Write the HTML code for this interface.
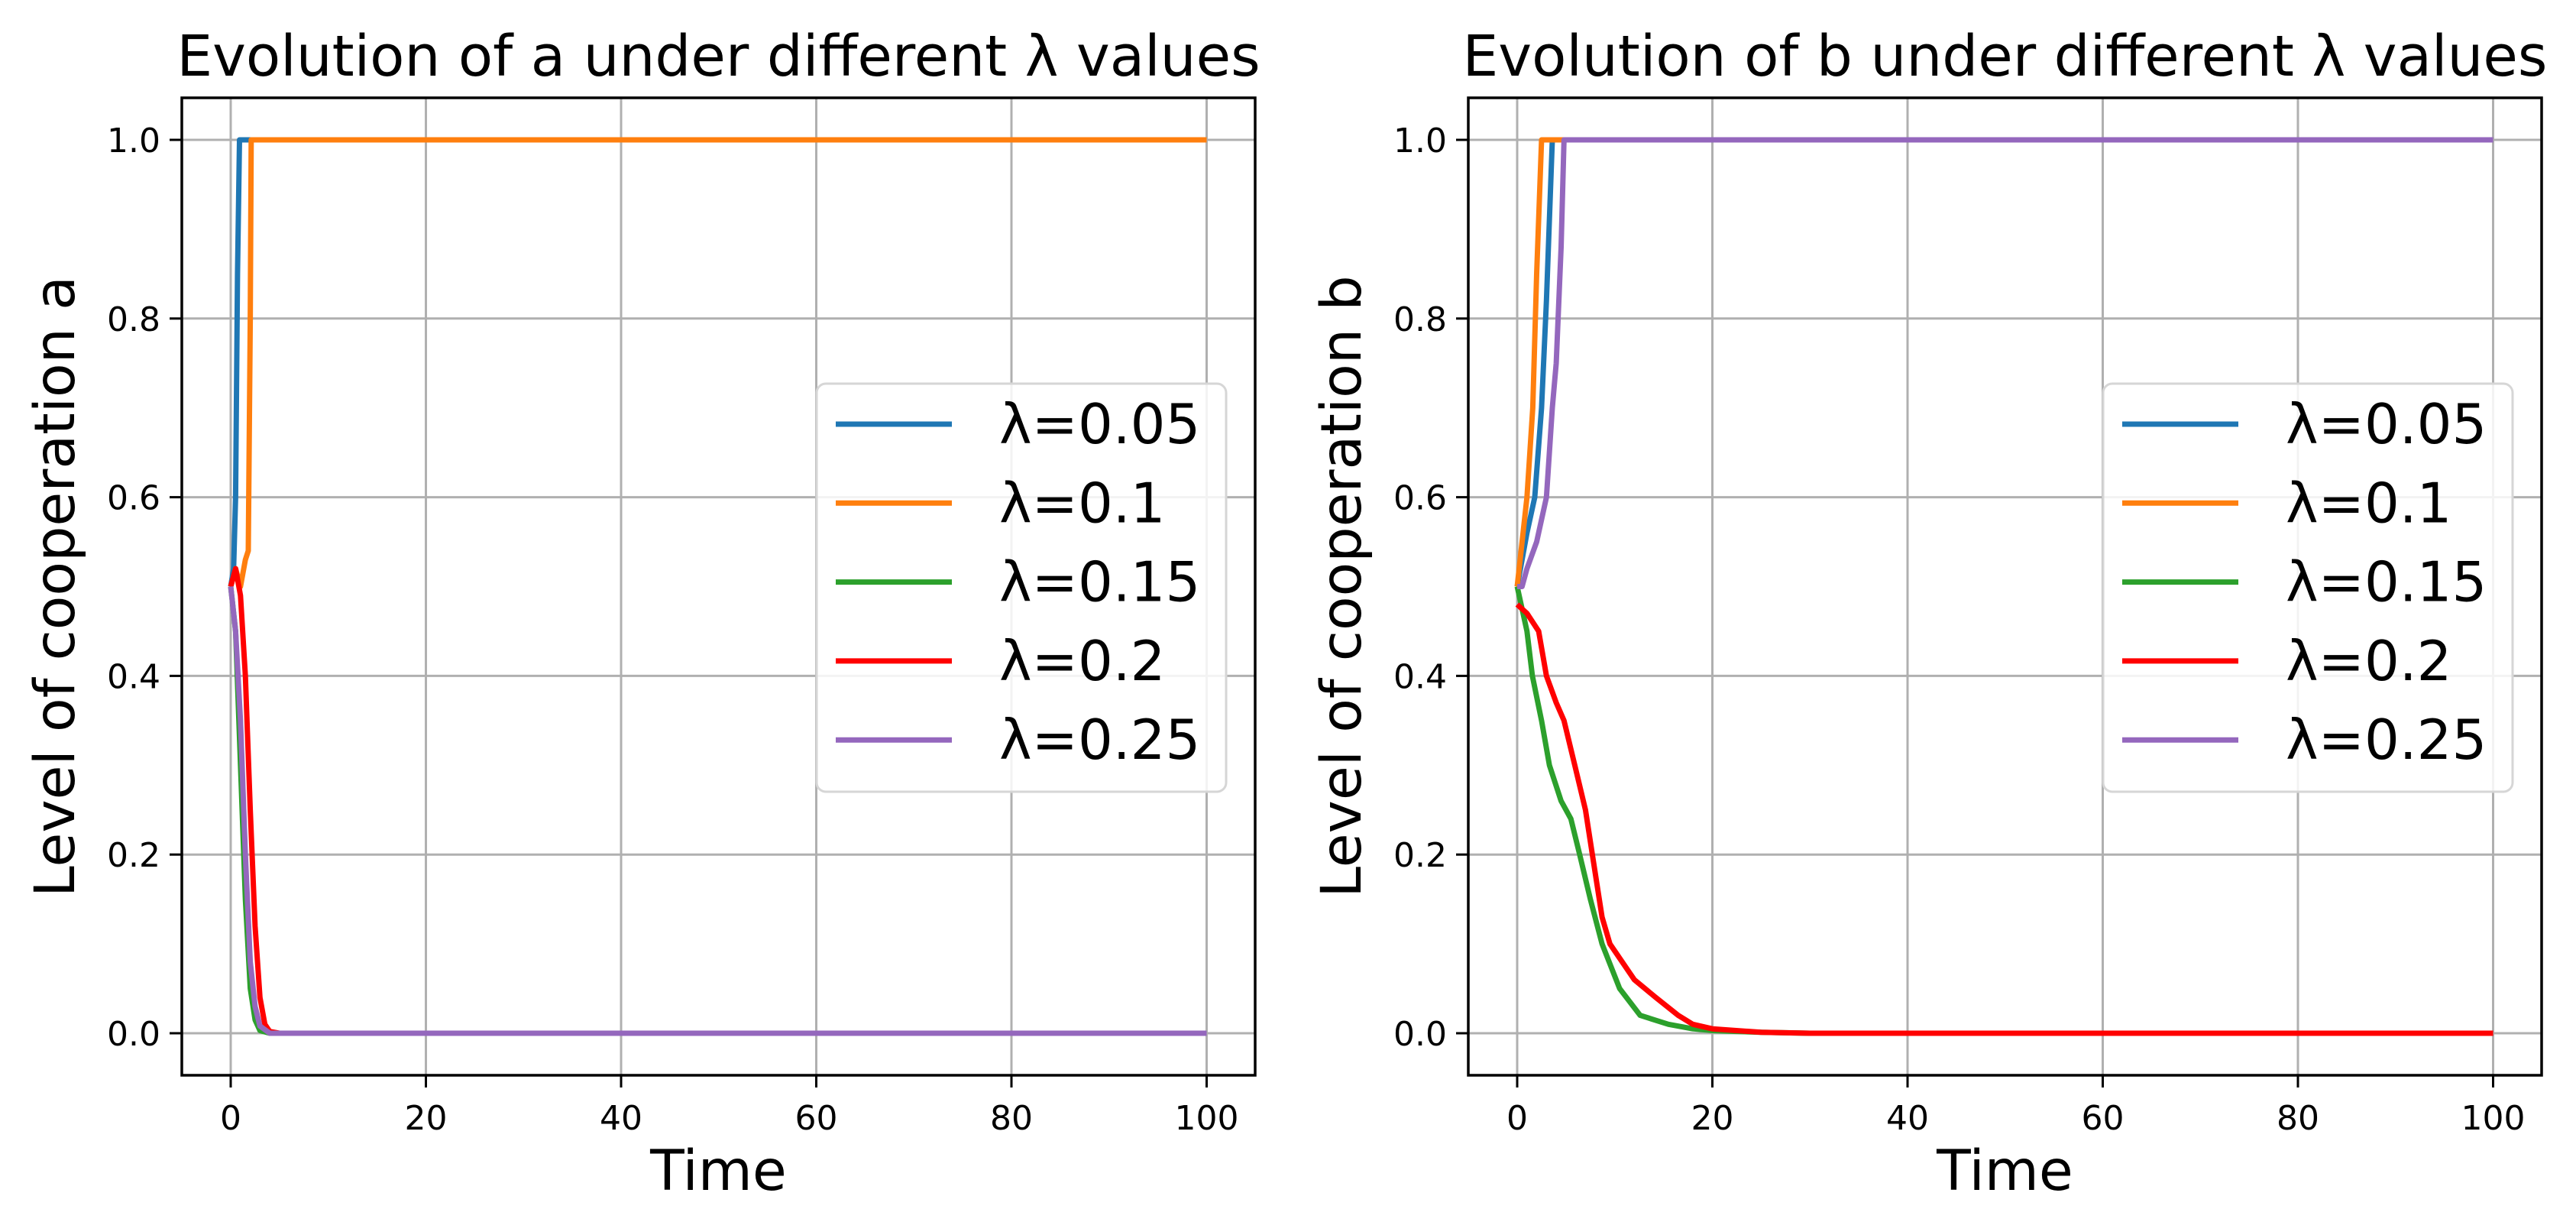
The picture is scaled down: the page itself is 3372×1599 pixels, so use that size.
<!DOCTYPE html>
<html><head><meta charset="utf-8"><style>
html,body{margin:0;padding:0;background:#fff;}
svg{display:block;font-family:"DejaVu Sans","Liberation Sans",sans-serif;}
</style></head><body>
<svg id="fig" xmlns="http://www.w3.org/2000/svg" width="3372" height="1599" viewBox="0 0 3372 1599"></svg>
<script>
const xTicks=[0,20,40,60,80,100];
const yTicks=[0,0.2,0.4,0.6,0.8,1.0];
const yTickLabels=["0.0","0.2","0.4","0.6","0.8","1.0"];
const seriesNames=["λ=0.05","λ=0.1","λ=0.15","λ=0.2","λ=0.25"];
const colors=["#1f77b4","#ff7f0e","#2ca02c","#ff0000","#9467bd"];
// Panel A (a)
const aBlueT=[0,0.3,0.5,0.7,0.9,100];
const aBlueV=[0.5,0.52,0.6,0.85,1,1];
const aOrangeT=[0,0.5,1,1.5,1.8,2.0,2.1,100];
const aOrangeV=[0.5,0.52,0.5,0.53,0.54,0.8,1,1];
const aGreenT=[0,0.5,1,1.5,2,2.5,3,4,100];
const aGreenV=[0.5,0.45,0.3,0.15,0.05,0.015,0.003,0,0];
const aRedT=[0,0.5,1,1.5,2,2.5,3,3.5,4,5,100];
const aRedV=[0.5,0.52,0.49,0.4,0.25,0.12,0.04,0.01,0.002,0,0];
const aPurpleT=[0,0.5,1,1.5,2,2.5,3,4,100];
const aPurpleV=[0.5,0.45,0.35,0.2,0.08,0.03,0.008,0,0];
// Panel B (b)
const bBlueT=[0,1,1.8,2.5,3,3.6,100];
const bBlueV=[0.5,0.56,0.6,0.7,0.82,1,1];
const bOrangeT=[0,0.5,1,1.6,2,2.5,100];
const bOrangeV=[0.5,0.55,0.6,0.7,0.85,1,1];
const bGreenT=[0,1,1.56,2.5,3.3,4.5,5.5,6.4,7.5,8.7,10.5,12.6,15.5,18,20,25,30,100];
const bGreenV=[0.5,0.45,0.4,0.35,0.3,0.26,0.24,0.2,0.15,0.1,0.05,0.02,0.01,0.005,0.003,0.001,0,0];
const bRedT=[0,1,2.2,3,4,4.8,5.9,7,7.7,8.7,9.5,12,14.2,16.5,18,20,25,30,100];
const bRedV=[0.48,0.47,0.45,0.4,0.37,0.35,0.3,0.25,0.2,0.13,0.1,0.06,0.04,0.02,0.01,0.005,0.001,0,0];
const bPurpleT=[0,0.5,1,2,3,3.6,4,4.5,4.8,100];
const bPurpleV=[0.5,0.5,0.52,0.55,0.6,0.7,0.75,0.88,1,1];

const NS="http://www.w3.org/2000/svg";
const svg=document.getElementById('fig');
function mk(tag,attrs,parent){const e=document.createElementNS(NS,tag);for(const k in attrs)e.setAttribute(k,attrs[k]);(parent||svg).appendChild(e);return e;}

function panel(off,letter,series){
  const L=238+off,R=1643+off,T=128,B=1407;
  const xs=t=>(302+off)+t*12.775;
  const ys=v=>1352-v*1169;
  const g=mk('g',{});
  
  
  xTicks.forEach(t=>{const l=mk('line',{x1:xs(t),x2:xs(t),y1:T,y2:B,stroke:'#b0b0b0','stroke-width':3},g);
    });
  yTicks.forEach(v=>{const l=mk('line',{x1:L,x2:R,y1:ys(v),y2:ys(v),stroke:'#b0b0b0','stroke-width':3},g);
    });
  series.forEach((s,i)=>{
    const d=s[0].map((t,j)=>(j?'L':'M')+xs(t).toFixed(1)+' '+ys(s[1][j]).toFixed(1)).join(' ');
    const p=mk('path',{d:d,fill:'none',stroke:colors[i],'stroke-width':7,'stroke-linejoin':'round'},g);
    
    
  });
  const f=mk('rect',{x:L,y:T,width:R-L,height:B-T,fill:'none',stroke:'#000','stroke-width':3.5},g);
  
  xTicks.forEach(t=>{mk('line',{x1:xs(t),x2:xs(t),y1:B,y2:B+16,stroke:'#000','stroke-width':3},g);
    const tx=mk('text',{x:xs(t),y:1478,'font-size':44,'text-anchor':'middle',fill:'#000'},g);tx.textContent=t;
    });
  yTicks.forEach((v,i)=>{mk('line',{x1:L-16,x2:L,y1:ys(v),y2:ys(v),stroke:'#000','stroke-width':3},g);
    const tx=mk('text',{x:L-28,y:ys(v)+16,'font-size':44,'text-anchor':'end',fill:'#000'},g);tx.textContent=yTickLabels[i];
    });
  const cx=(L+R)/2;
  const ti=mk('text',{x:cx,y:99,'font-size':74,'text-anchor':'middle',fill:'#000'},g);
  ti.textContent='Evolution of '+letter+' under different λ values';
  
  const xl=mk('text',{x:cx,y:1557,'font-size':73,'text-anchor':'middle',fill:'#000'},g);
  xl.textContent='Time';
  
  const yx=L-167+26, yc=(T+B)/2;
  const yl=mk('text',{x:yx,y:yc,'font-size':73,'text-anchor':'middle',fill:'#000',transform:'rotate(-90 '+yx+' '+yc+')'},g);
  yl.textContent='Level of cooperation '+letter;
  
  const lg=mk('g',{},g);
  
  mk('rect',{x:1069+off,y:502,width:536,height:534,rx:12,fill:'#fff','fill-opacity':0.85,stroke:'#d6d6d6','stroke-width':3},lg);
  seriesNames.forEach((n,i)=>{
    const y=555+i*103.3;
    mk('line',{x1:1094+off,x2:1246+off,y1:y,y2:y,stroke:colors[i],'stroke-width':7},lg);
    const t=mk('text',{x:1308+off,y:y+25,'font-size':72,fill:'#000'},lg);t.textContent=n;
    
  });
}
panel(0,'a',[[aBlueT,aBlueV],[aOrangeT,aOrangeV],[aGreenT,aGreenV],[aRedT,aRedV],[aPurpleT,aPurpleV]]);
panel(1684,'b',[[bBlueT,bBlueV],[bOrangeT,bOrangeV],[bGreenT,bGreenV],[bRedT,bRedV],[bPurpleT,bPurpleV]]);
</script>
</body></html>
